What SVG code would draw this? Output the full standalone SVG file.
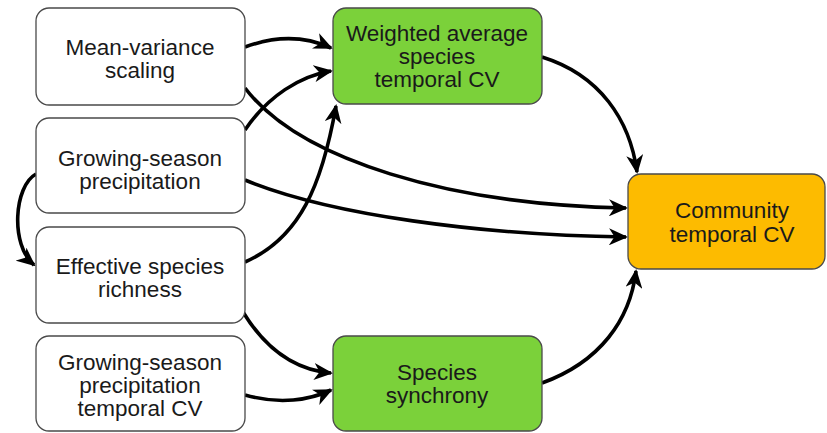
<svg xmlns="http://www.w3.org/2000/svg" width="827" height="433" viewBox="0 0 827 433">
<style>
.box{stroke:#4a4a4a;stroke-width:1.3}
.w{fill:#ffffff}
.g{fill:#7bd13a}
.o{fill:#fdbb00}
text{font-family:"Liberation Sans",Arial,sans-serif;font-size:22.5px;fill:#1a1a1a;text-anchor:middle}
.c path{fill:none;stroke:#000;stroke-width:3.6;marker-end:url(#ah)}
</style>
<defs>
<marker id="ah" markerUnits="userSpaceOnUse" viewBox="0 0 19 17" refX="17" refY="8.5" markerWidth="19" markerHeight="17" orient="auto">
<path d="M0,0 L19,8.5 L0,17 L5.5,8.5 z" fill="#000"/>
</marker>
</defs>
<rect width="827" height="433" fill="#fff"/>
<g class="c" id="connectors">
<path d="M245,47 C275,36 305,36 331,48"/>
<path d="M245,130 C268,96 300,76 331,71"/>
<path d="M245,262 C300,238 322,185 336,106"/>
<path d="M245,88 C300,160 450,205 626,208"/>
<path d="M245,180 C330,215 480,235 626,237"/>
<path d="M542,57 C600,75 630,120 637,172"/>
<path d="M542,383 C600,362 630,320 636,271"/>
<path d="M243,312 C265,348 295,370 331,373"/>
<path d="M245,395 C280,405 310,400 331,390"/>
<path d="M36,174 C14,186 10,245 34,265"/>
</g>
<g id="mean-variance"><rect class="box w" x="36" y="8" width="209" height="97" rx="13"/><text x="140" y="55">Mean-variance</text><text x="140" y="78">scaling</text></g>
<g id="gs-precip"><rect class="box w" x="36" y="118" width="209" height="95" rx="13"/><text x="140" y="166">Growing-season</text><text x="140" y="189">precipitation</text></g>
<g id="richness"><rect class="box w" x="36" y="227" width="209" height="96" rx="13"/><text x="140" y="274">Effective species</text><text x="140" y="297">richness</text></g>
<g id="gs-precip-cv"><rect class="box w" x="36" y="336" width="209" height="95" rx="13"/><text x="140" y="370">Growing-season</text><text x="140" y="393">precipitation</text><text x="140" y="416">temporal CV</text></g>
<g id="weighted-cv"><rect class="box g" x="333" y="8" width="209" height="96" rx="13"/><text x="437" y="41">Weighted average</text><text x="437" y="64">species</text><text x="437" y="87">temporal CV</text></g>
<g id="synchrony"><rect class="box g" x="333" y="336" width="209" height="95" rx="13"/><text x="437" y="380">Species</text><text x="437" y="403">synchrony</text></g>
<g id="community-cv"><rect class="box o" x="628" y="174" width="197" height="95" rx="13"/><text x="732" y="218">Community</text><text x="732" y="242">temporal CV</text></g>
</svg>
